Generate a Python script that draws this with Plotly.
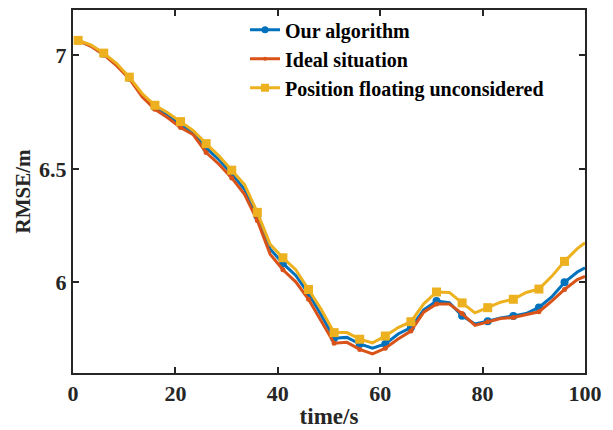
import plotly.graph_objects as go

time_s = [1, 3.5, 6, 8.5, 11, 13.5, 16, 18.5, 21, 23.5, 26, 28.5, 31, 33.5, 36, 38.5,
          41, 43.5, 46, 48.5, 51, 53.5, 56, 58.5, 61, 63.5, 66, 68.5, 71, 73.5, 76,
          78.5, 81, 83.5, 86, 88.5, 91, 93.5, 96, 98.5, 100]

our_algorithm = [7.066, 7.043, 7.007, 6.960, 6.901, 6.826, 6.772, 6.737, 6.696, 6.660,
                 6.592, 6.540, 6.478, 6.410, 6.292, 6.147, 6.083, 6.030, 5.950, 5.855,
                 5.753, 5.757, 5.728, 5.709, 5.728, 5.772, 5.800, 5.878, 5.917, 5.910,
                 5.852, 5.816, 5.828, 5.843, 5.851, 5.862, 5.889, 5.935, 6.000, 6.045, 6.064]

ideal_situation = [7.066, 7.040, 7.003, 6.955, 6.897, 6.818, 6.762, 6.725, 6.682, 6.650,
                   6.572, 6.520, 6.460, 6.388, 6.272, 6.124, 6.055, 6.002, 5.925, 5.825,
                   5.731, 5.735, 5.704, 5.684, 5.709, 5.750, 5.785, 5.868, 5.904, 5.904,
                   5.862, 5.810, 5.826, 5.840, 5.845, 5.858, 5.870, 5.917, 5.968, 6.012, 6.026]

position_unconsidered = [7.066, 7.046, 7.010, 6.965, 6.904, 6.832, 6.780, 6.747, 6.708, 6.668,
                         6.611, 6.557, 6.494, 6.430, 6.308, 6.167, 6.108, 6.055, 5.968, 5.880,
                         5.778, 5.778, 5.749, 5.733, 5.763, 5.800, 5.826, 5.905, 5.957, 5.955,
                         5.909, 5.865, 5.888, 5.912, 5.925, 5.955, 5.970, 6.026, 6.092, 6.148, 6.174]

series_names = ["Our algorithm", "Ideal situation", "Position floating unconsidered"]

x_ticks = [0, 20, 40, 60, 80, 100]
y_ticks = [6, 6.5, 7]
y_tick_labels = ["6", "6.5", "7"]

colors = ["#0072BD", "#D95319", "#EDB120"]
symbols = ["circle", "circle", "square"]
msizes = [8, 5, 9]

FONT = "Liberation Serif, Times New Roman, serif"
INK = "#262626"

fig = go.Figure()
series = [our_algorithm, ideal_situation, position_unconsidered]
# markers only at every 5 s (t = 1, 6, 11, ..., 96)
mark_idx = [i for i, t in enumerate(time_s) if (t - 1) % 5 == 0]

for name, ys, c, sym, ms in zip(series_names, series, colors, symbols, msizes):
    fig.add_trace(go.Scatter(x=time_s, y=ys, mode="lines",
                             line=dict(color=c, width=3), showlegend=False,
                             hoverinfo="skip"))
    fig.add_trace(go.Scatter(x=[time_s[i] for i in mark_idx], y=[ys[i] for i in mark_idx],
                             mode="markers", marker=dict(color=c, symbol=sym, size=ms),
                             showlegend=False))

for name, c, sym, ms in zip(series_names, colors, symbols, msizes):
    fig.add_trace(go.Scatter(x=[None], y=[None], mode="lines+markers", name=name,
                             line=dict(color=c, width=3),
                             marker=dict(color=c, symbol=sym, size=ms - 1)))

axis_common = dict(
    showline=True, linecolor=INK, linewidth=2, mirror="ticks",
    ticks="inside", ticklen=6, tickwidth=2, tickcolor=INK,
    showgrid=False, zeroline=False,
    tickfont=dict(family=FONT, size=22, color=INK, weight="bold"),
)

fig.update_layout(
    width=613, height=430,
    margin=dict(l=73, r=28, t=10, b=57, autoexpand=False),
    paper_bgcolor="white", plot_bgcolor="white",
    xaxis=dict(range=[0, 100], tickvals=x_ticks, automargin=False,
               title=dict(text="time/s", standoff=2,
                          font=dict(family=FONT, size=23, color=INK, weight="bold")),
               **axis_common),
    yaxis=dict(range=[5.6, 7.2], tickvals=y_ticks, ticktext=y_tick_labels, automargin=False,
               title=dict(text="RMSE/m", standoff=3,
                          font=dict(family=FONT, size=21, color=INK, weight="bold")),
               **axis_common),
    legend=dict(x=0.336, y=0.999, xanchor="left", yanchor="top",
                bgcolor="rgba(255,255,255,0)", borderwidth=0,
                font=dict(family=FONT, size=20, color="black", weight="bold"),
                itemwidth=30, tracegroupgap=0),
)

fig.write_html("out.html", config={"displayModeBar": False},
               post_script="document.body.style.margin='0';")
